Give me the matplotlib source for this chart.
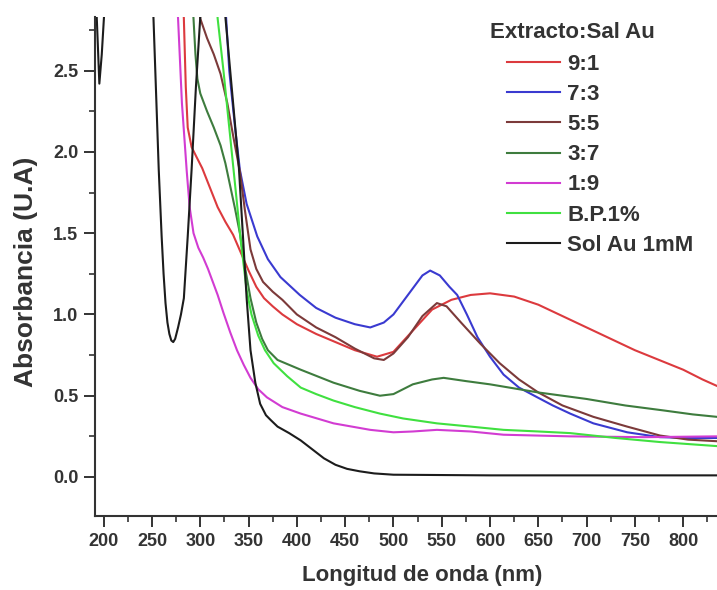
import numpy as np
import matplotlib.pyplot as plt
from matplotlib.ticker import MultipleLocator

plt.rcParams['font.family'] = ['Liberation Sans', 'DejaVu Sans']
plt.rcParams['font.weight'] = 'bold'

# -------------------------------
# Data
# -------------------------------
wl_91 = [280, 283, 285, 287, 291, 296, 302, 310, 318, 326, 334, 342, 350, 358, 366, 375,
         385, 400, 420, 440, 460, 483, 500, 520, 540, 560, 580, 600, 625, 650, 675, 700,
         725, 750, 775, 800, 820, 835]
abs_91 = [3.2, 2.82, 2.4, 2.15, 2.03, 1.97, 1.9, 1.78, 1.66, 1.57, 1.49, 1.38, 1.27, 1.17,
          1.1, 1.05, 1.0, 0.94, 0.88, 0.83, 0.78, 0.74, 0.77, 0.9, 1.03, 1.09, 1.12, 1.13,
          1.11, 1.06, 0.99, 0.92, 0.85, 0.78, 0.72, 0.66, 0.6, 0.56]

wl_73 = [322, 326, 330, 336, 341, 348, 359, 370, 383, 403, 420, 440, 460, 476, 490, 500,
         510, 520, 530, 538, 548, 558, 566, 576, 587, 600, 614, 630, 649, 665, 683, 707,
         742, 776, 805, 835]
abs_73 = [3.3, 2.9, 2.5, 2.15, 1.89, 1.68, 1.48, 1.34, 1.23, 1.12, 1.04, 0.98, 0.94, 0.92,
          0.95, 1.0, 1.08, 1.16, 1.24, 1.27, 1.24, 1.17, 1.12, 1.0, 0.86, 0.74, 0.63, 0.55,
          0.49, 0.44, 0.39, 0.33, 0.275, 0.245, 0.24, 0.24]

wl_55 = [296, 300, 307, 314, 321, 328, 334, 341, 346, 352, 358, 365, 375, 385, 400, 420,
         440, 460, 480, 490, 500, 515, 530, 545, 555, 570, 590, 610, 630, 650, 675, 707,
         742, 776, 805, 835]
abs_55 = [3.2, 2.82, 2.7, 2.6, 2.48, 2.3, 2.1, 1.88, 1.65, 1.4, 1.28, 1.2, 1.14, 1.09, 1.0,
          0.92, 0.86, 0.79, 0.73, 0.72, 0.76, 0.86, 0.99, 1.07, 1.05, 0.95, 0.82, 0.7, 0.6,
          0.52, 0.44, 0.37, 0.31, 0.255, 0.23, 0.22]

wl_37 = [290, 293, 295, 297, 300, 307, 314, 321, 326, 331, 336, 341, 346, 352, 358, 364,
         370, 380, 404, 438, 465, 486, 500, 520, 540, 552, 575, 600, 650, 700, 740, 779,
         810, 835]
abs_37 = [3.1, 2.82, 2.6, 2.45, 2.36, 2.25, 2.15, 2.04, 1.93, 1.79, 1.65, 1.5, 1.3, 1.1,
          0.95, 0.85, 0.78, 0.72, 0.66, 0.58, 0.53, 0.5, 0.51, 0.57, 0.6, 0.61, 0.59, 0.57,
          0.52, 0.48, 0.44, 0.41, 0.385, 0.37]

wl_19 = [273, 277, 281, 286, 289, 293, 298, 303, 308, 313, 318, 324, 331, 338, 345, 352,
         360, 369, 385, 404, 438, 476, 500, 520, 545, 580, 614, 683, 760, 835]
abs_19 = [3.2, 2.82, 2.3, 1.88, 1.66, 1.5, 1.41, 1.35, 1.28, 1.2, 1.12, 1.01, 0.89, 0.78,
          0.69, 0.61, 0.54, 0.49, 0.43, 0.39, 0.33, 0.29, 0.275, 0.28, 0.29, 0.28, 0.26,
          0.25, 0.245, 0.25]

wl_bp = [314, 318, 324, 330, 336, 342, 348, 353, 360, 367, 376, 390, 404, 420, 438, 460,
         486, 510, 545, 580, 614, 650, 683, 730, 776, 835]
abs_bp = [3.2, 2.82, 2.5, 2.15, 1.8, 1.45, 1.15, 1.0, 0.87, 0.78, 0.7, 0.62, 0.55, 0.51,
          0.47, 0.43, 0.39, 0.36, 0.33, 0.31, 0.29, 0.28, 0.27, 0.24, 0.215, 0.19]

wl_au = [190, 193, 195.5, 198, 201, 206, 248, 251.5, 257, 260, 262, 264, 266, 268, 270,
         272, 274, 277, 280, 283, 287, 291, 295.5, 300, 305, 320, 326, 334, 340, 344, 348,
         352, 357, 362, 368, 373, 380, 392, 404, 416, 428, 440, 452, 465, 480, 500, 600,
         700, 835]
abs_au = [3.2, 2.8, 2.42, 2.6, 2.9, 3.4, 3.4, 2.83, 1.89, 1.48, 1.25, 1.07, 0.95, 0.88,
          0.84, 0.83, 0.85, 0.92, 1.0, 1.1, 1.48, 1.89, 2.4, 2.83, 3.4, 3.4, 2.83, 2.3, 1.9,
          1.5, 1.1, 0.78, 0.58, 0.45, 0.38, 0.35, 0.31, 0.27, 0.225, 0.17, 0.115, 0.075,
          0.05, 0.035, 0.022, 0.014, 0.01, 0.01, 0.01]

labels = ['9:1', '7:3', '5:5', '3:7', '1:9', 'B.P.1%', 'Sol Au 1mM']
colors = ['#dc3a3e', '#3a3ad0', '#7c3a3a', '#3e7c3e', '#d23cd2', '#40e040', '#1c1c1c']
series = [(wl_91, abs_91), (wl_73, abs_73), (wl_55, abs_55), (wl_37, abs_37),
          (wl_19, abs_19), (wl_bp, abs_bp), (wl_au, abs_au)]

# -------------------------------
# Plot
# -------------------------------
fig = plt.figure(figsize=(7.17, 5.90), dpi=100)
ax = fig.add_axes([95/717, 74/590, 622/717, 499/590])

for (x, y), c, lab in zip(series, colors, labels):
    ax.plot(x, y, color=c, lw=1.5, label=lab, solid_joinstyle='round')

ax.set_xlim(191, 835)
ax.set_ylim(-0.24, 2.83)
ax.xaxis.set_major_locator(MultipleLocator(50))
ax.xaxis.set_minor_locator(MultipleLocator(25))
ax.yaxis.set_major_locator(MultipleLocator(0.5))
ax.yaxis.set_minor_locator(MultipleLocator(0.25))
ax.yaxis.set_major_formatter(plt.FormatStrFormatter('%.1f'))

for s in ['top', 'right']:
    ax.spines[s].set_visible(False)
for s in ['left', 'bottom']:
    ax.spines[s].set_linewidth(1.5)
    ax.spines[s].set_color('#333333')

ax.tick_params(which='major', direction='out', length=8, width=1.4, color='#333333',
               labelsize=13, labelcolor='#333333', pad=4)
ax.tick_params(which='minor', direction='out', length=4.5, width=1.2, color='#333333')

ax.set_xlabel('Longitud de onda (nm)', fontsize=16, fontweight='bold', color='#333333')
ax.set_ylabel('Absorbancia (U.A)', fontsize=19, fontweight='bold', color='#333333')
ax.xaxis.set_label_coords((422 - 95) / 622, -(576 - 516) / 499)
ax.yaxis.set_label_coords(-(95 - 26) / 622, (516 - 272) / 499)
ax.xaxis.label.set_va('center')
ax.yaxis.label.set_va('center')

fig.text(490/717, 1 - 32/590, 'Extracto:Sal Au', fontsize=16, fontweight='bold',
         color='#333333', va='center', ha='left')
leg = ax.legend(loc='upper left', bbox_to_anchor=(507/717, 1 - 54/590),
                bbox_transform=fig.transFigure, frameon=False, fontsize=16,
                handlelength=2.4, handletextpad=0.32, labelspacing=0.41,
                borderpad=0, borderaxespad=0)
for t in leg.get_texts():
    t.set_color('#333333')

fig.savefig('out.png', dpi=100)
